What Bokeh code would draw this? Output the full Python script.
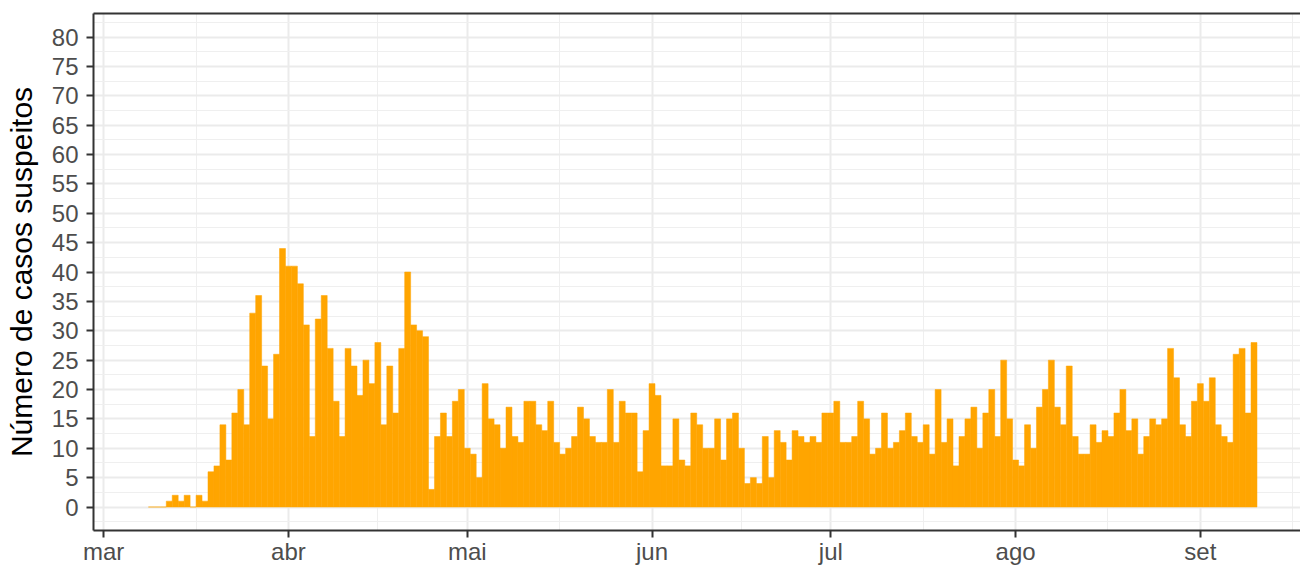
import pandas as pd
from bokeh.plotting import figure
from bokeh.models import (Range1d, FixedTicker, CustomJSTickFormatter, LinearAxis,
                          ColumnDataSource)
from bokeh.embed import file_html
from bokeh.resources import INLINE

# ---------------- data ----------------
start_date = "2020-03-09"
casos_mar = [0, 0, 0, 1, 2, 1, 2, 0, 2, 1, 6, 7, 14, 8, 16, 20, 14, 33, 36, 24, 15, 26, 44]
casos_abr = [41, 41, 38, 31, 12, 32, 36, 27, 18, 12, 27, 24, 19, 25, 21, 28, 14, 24, 16, 27,
             40, 31, 30, 29, 3, 12, 16, 12, 18, 20]
casos_mai = [10, 9, 5, 21, 15, 14, 10, 17, 12, 11, 18, 18, 14, 13, 18, 11, 9, 10, 12, 17,
             15, 12, 11, 11, 20, 11, 18, 16, 16, 6, 13]
casos_jun = [21, 19, 7, 7, 15, 8, 7, 16, 14, 10, 10, 15, 8, 15, 16, 10, 4, 5, 4, 12,
             5, 13, 11, 8, 13, 12, 11, 12, 11, 16]
casos_jul = [16, 18, 11, 11, 12, 18, 15, 9, 10, 16, 10, 11, 13, 16, 12, 11, 14, 9, 20, 11,
             15, 7, 12, 15, 17, 10, 16, 20, 12, 25, 15]
casos_ago = [8, 7, 14, 10, 17, 20, 25, 17, 14, 24, 12, 9, 9, 14, 11, 13, 12, 16, 20, 13,
             15, 9, 12, 15, 14, 15, 27, 22, 14, 12, 18]
casos_set = [21, 18, 22, 14, 12, 11, 26, 27, 16, 28]

casos = casos_mar + casos_abr + casos_mai + casos_jun + casos_jul + casos_ago + casos_set
datas = pd.date_range(start_date, periods=len(casos), freq="D")

meses_inicio = pd.date_range("2020-03-01", "2020-09-01", freq="MS")
nomes_meses = ["jan", "fev", "mar", "abr", "mai", "jun", "jul", "ago", "set", "out", "nov", "dez"]
y_ticks = list(range(0, 81, 5))
y_minor = [t - 2.5 for t in y_ticks] + [82.5]
y_title = "Número de casos suspeitos"

# ---------------- figure ----------------
def ms(ts):
    return float(pd.Timestamp(ts).value // 10**6)

day = 86400000.0
x_start = ms("2020-03-01") - 1.71 * day
x_end = ms("2020-03-01") + 200.8 * day

src = ColumnDataSource(dict(data=datas, casos=casos))

p = figure(width=1300, height=567, x_axis_type="datetime",
           x_range=Range1d(x_start, x_end), y_range=Range1d(-4, 84),
           output_backend="svg", toolbar_location=None,
           min_border_left=93, min_border_right=0, min_border_top=13, min_border_bottom=36)
p.outline_line_color = None
p.background_fill_color = "white"
p.border_fill_color = "white"

p.vbar(x="data", top="casos", bottom=0, width=day, source=src,
       fill_color="#FFA500", line_color="#FFA500", line_width=0.5)

# ticks
major_x = [ms(t) for t in meses_inicio]
minor_x = [(a + b) / 2 for a, b in zip(major_x[:-1], major_x[1:])]
minor_x.append(major_x[-1] + (major_x[1] - major_x[0]) / 2)
xt = FixedTicker(ticks=major_x, minor_ticks=minor_x)
yt = FixedTicker(ticks=y_ticks, minor_ticks=y_minor)

p.xaxis.ticker = xt
p.xgrid.ticker = xt
p.yaxis.ticker = yt
p.ygrid.ticker = yt

p.xaxis.formatter = CustomJSTickFormatter(args=dict(nomes=nomes_meses),
                                          code="return nomes[new Date(tick).getUTCMonth()];")

for g in (p.xgrid, p.ygrid):
    g.grid_line_color = "#EBEBEB"
    g.grid_line_width = 2
    g.minor_grid_line_color = "#EFEFEF"
    g.minor_grid_line_width = 1

font = "Liberation Sans"
for ax in (p.xaxis, p.yaxis):
    ax.axis_line_color = "#333333"
    ax.axis_line_width = 2
    ax.major_tick_line_color = "#333333"
    ax.major_tick_line_width = 2
    ax.major_tick_in = 0
    ax.major_tick_out = 7
    ax.minor_tick_line_color = None
    ax.major_label_text_font = font
    ax.major_label_text_font_size = "24px"
    ax.major_label_text_color = "#4D4D4D"

p.xaxis.major_label_standoff = 0
p.yaxis.major_label_standoff = 8
p.yaxis.axis_label = y_title
p.yaxis.axis_label_text_font = font
p.yaxis.axis_label_text_font_size = "30px"
p.yaxis.axis_label_text_font_style = "normal"
p.yaxis.axis_label_text_color = "black"
p.yaxis.axis_label_standoff = 11

# top border line
top = LinearAxis(ticker=FixedTicker(ticks=[]), axis_line_color="#333333", axis_line_width=2,
                 major_tick_line_color=None, minor_tick_line_color=None,
                 major_label_text_font_size="0px")
p.add_layout(top, "above")

open("out.html", "w").write(file_html(p, INLINE))
